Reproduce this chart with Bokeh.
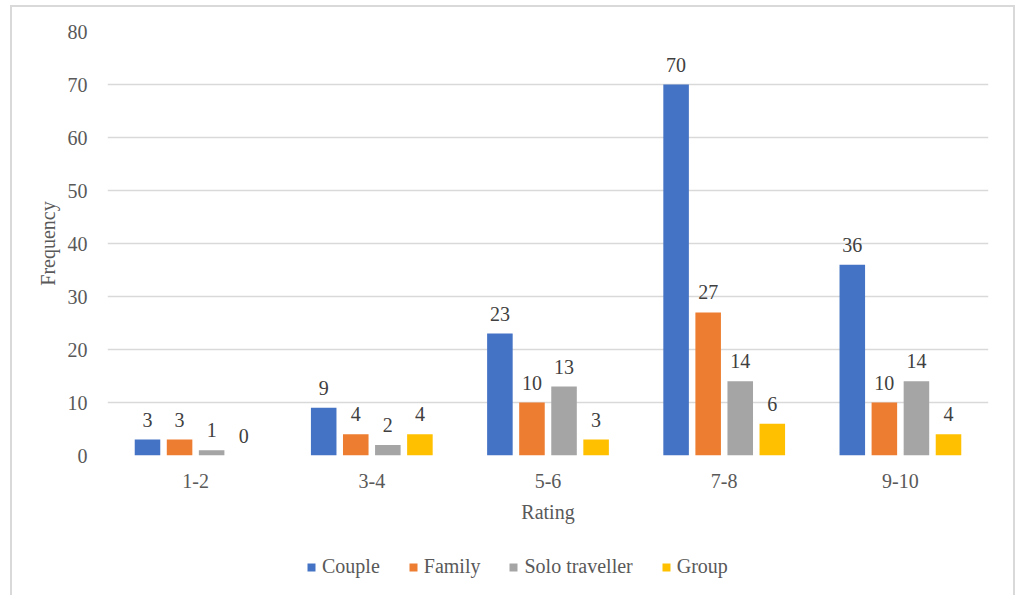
from bokeh.plotting import figure
from bokeh.layouts import column
from bokeh.models import ColumnDataSource, Range1d, Legend, LegendItem, FixedTicker
from bokeh.transform import dodge
from bokeh.embed import file_html
from bokeh.resources import INLINE
from bokeh.core.properties import value

ratings = ["1-2", "3-4", "5-6", "7-8", "9-10"]
couple = [3, 9, 23, 70, 36]
family = [3, 4, 10, 27, 10]
solo = [1, 2, 13, 14, 14]
group = [0, 4, 3, 6, 4]
series_names = ["Couple", "Family", "Solo traveller", "Group"]
colors = ["#4472C4", "#ED7D31", "#A5A5A5", "#FFC000"]
y_ticks = [0, 10, 20, 30, 40, 50, 60, 70, 80]

FONT = "Liberation Serif"
TXT = "#595959"

p = figure(x_range=ratings, y_range=Range1d(0, 80), width=1016, height=540,
           output_backend="svg", toolbar_location=None,
           min_border_left=107, min_border_right=28, min_border_top=31, min_border_bottom=85)
p.x_range.range_padding = 0
p.background_fill_color = "white"
p.border_fill_color = "white"
p.outline_line_color = None

p.xgrid.grid_line_color = None
p.ygrid.grid_line_color = "#d9d9d9"
p.ygrid.grid_line_width = 1.5
p.yaxis.ticker = FixedTicker(ticks=y_ticks)

for ax in (p.xaxis[0], p.yaxis[0]):
    ax.axis_line_color = None
    ax.major_tick_line_color = None
    ax.minor_tick_line_color = None
    ax.major_label_text_font = FONT
    ax.major_label_text_font_size = "20px"
    ax.major_label_text_color = TXT
    ax.axis_label_text_font = FONT
    ax.axis_label_text_font_size = "20px"
    ax.axis_label_text_color = TXT
    ax.axis_label_text_font_style = "normal"

p.yaxis.axis_label = "Frequency"
p.yaxis.major_label_standoff = 14
p.yaxis.axis_label_standoff = 6
p.xaxis.axis_label = "Rating"
p.xaxis.major_label_standoff = 12
p.xaxis.axis_label_standoff = 10

src = ColumnDataSource(dict(x=ratings, couple=couple, family=family, solo=solo, group=group,
                            couple_s=[str(v) for v in couple], family_s=[str(v) for v in family],
                            solo_s=[str(v) for v in solo], group_s=[str(v) for v in group]))

offsets = [-0.273, -0.091, 0.091, 0.273]
keys = ["couple", "family", "solo", "group"]
for key, off, col in zip(keys, offsets, colors):
    p.vbar(x=dodge("x", off, range=p.x_range), top=key, width=0.145, source=src,
           fill_color=col, line_color=None)
    p.text(x=dodge("x", off, range=p.x_range), y=key, text=key + "_s", source=src,
           text_font=value(FONT), text_font_size="20px", text_color="#404040",
           text_align="center", text_baseline="middle", y_offset=-20)

# legend strip below the chart (its frame is aligned with the chart's frame)
lf = figure(width=1016, height=55, x_range=(0, 1), y_range=(0, 1),
            output_backend="svg", toolbar_location=None, min_border=0)
lf.axis.visible = False
lf.grid.grid_line_color = None
lf.outline_line_color = None
lf.background_fill_color = "white"
lf.border_fill_color = "white"
items = []
for col, name in zip(colors, series_names):
    # swatch-only renderer placed outside the visible range
    r = lf.vbar(x=[-5], top=[-5], bottom=[-6], width=0.1, fill_color=col, line_color=None)
    items.append(LegendItem(label=name, renderers=[r]))
legend = Legend(items=items, orientation="horizontal", location=(199, 17),
                label_text_font=FONT, label_text_font_size="20px", label_text_color=TXT,
                glyph_width=10, glyph_height=10, label_standoff=6, spacing=28,
                padding=0, margin=0, border_line_color=None, background_fill_alpha=0)
lf.add_layout(legend)

layout = column(p, lf, spacing=0)
html = file_html(layout, INLINE)
border = ('<div style="position:fixed;left:10px;top:5px;width:1001px;height:620px;'
          'border:2px solid #d9d9d9;pointer-events:none;z-index:10"></div>')
html = html.replace("</body>", border + "</body>")
open("out.html", "w").write(html)
